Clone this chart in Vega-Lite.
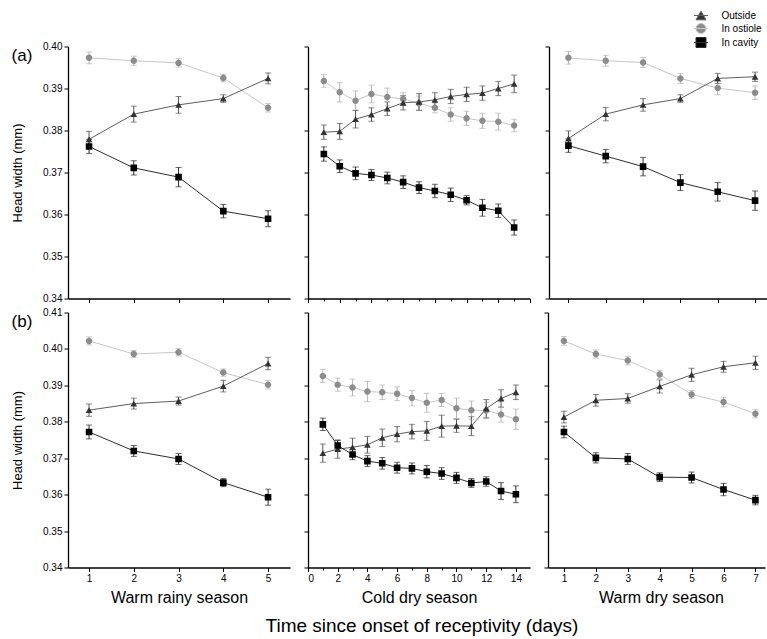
{
"$schema": "https://vega.github.io/schema/vega-lite/v6.json",
"padding": {"left": 11, "top": 9.5, "right": 0, "bottom": 0},
"config": {
  "font": "Liberation Sans",
  "view": {"stroke": null},
  "axis": {"domainColor": "#000", "tickColor": "#000", "labelColor": "#000", "titleColor": "#000", "grid": false, "tickSize": 4, "labelFontSize": 10, "titleFontSize": 13, "titleFontWeight": "normal", "domainWidth": 1.3, "tickWidth": 1, "labelPadding": 2},
  "legend": {"labelFont": "Liberation Sans", "labelFontSize": 10, "labelColor": "#000", "rowPadding": -1, "symbolStrokeWidth": 1}
},
"datasets": {
"a1": [
{"s":"In ostiole","d":1,"v":0.3973,"e":0.0014},{"s":"In ostiole","d":2,"v":0.3966,"e":0.0011},{"s":"In ostiole","d":3,"v":0.3961,"e":0.0010},{"s":"In ostiole","d":4,"v":0.3925,"e":0.0009},{"s":"In ostiole","d":5,"v":0.3854,"e":0.0010},
{"s":"Outside","d":1,"v":0.3779,"e":0.0019},{"s":"Outside","d":2,"v":0.3839,"e":0.0019},{"s":"Outside","d":3,"v":0.3861,"e":0.0020},{"s":"Outside","d":4,"v":0.3876,"e":0.0009},{"s":"Outside","d":5,"v":0.3924,"e":0.0013},
{"s":"In cavity","d":1,"v":0.3762,"e":0.0017},{"s":"In cavity","d":2,"v":0.3711,"e":0.0017},{"s":"In cavity","d":3,"v":0.3689,"e":0.0023},{"s":"In cavity","d":4,"v":0.3608,"e":0.0016},{"s":"In cavity","d":5,"v":0.3590,"e":0.0019}
],
"a2": [
{"s":"In ostiole","d":1,"v":0.3918,"e":0.0015},{"s":"In ostiole","d":2,"v":0.3891,"e":0.0023},{"s":"In ostiole","d":3,"v":0.3871,"e":0.0023},{"s":"In ostiole","d":4,"v":0.3887,"e":0.0021},{"s":"In ostiole","d":5,"v":0.3880,"e":0.0021},{"s":"In ostiole","d":6,"v":0.3875,"e":0.0015},{"s":"In ostiole","d":7,"v":0.3865,"e":0.0017},{"s":"In ostiole","d":8,"v":0.3854,"e":0.0012},{"s":"In ostiole","d":9,"v":0.3838,"e":0.0016},{"s":"In ostiole","d":10,"v":0.3829,"e":0.0017},{"s":"In ostiole","d":11,"v":0.3823,"e":0.0018},{"s":"In ostiole","d":12,"v":0.3821,"e":0.0020},{"s":"In ostiole","d":13,"v":0.3812,"e":0.0015},
{"s":"Outside","d":1,"v":0.3796,"e":0.0017},{"s":"Outside","d":2,"v":0.3798,"e":0.0019},{"s":"Outside","d":3,"v":0.3827,"e":0.0021},{"s":"Outside","d":4,"v":0.3838,"e":0.0016},{"s":"Outside","d":5,"v":0.3852,"e":0.0016},{"s":"Outside","d":6,"v":0.3866,"e":0.0017},{"s":"Outside","d":7,"v":0.3868,"e":0.0020},{"s":"Outside","d":8,"v":0.3873,"e":0.0017},{"s":"Outside","d":9,"v":0.3881,"e":0.0017},{"s":"Outside","d":10,"v":0.3886,"e":0.0017},{"s":"Outside","d":11,"v":0.3889,"e":0.0017},{"s":"Outside","d":12,"v":0.3900,"e":0.0017},{"s":"Outside","d":13,"v":0.3911,"e":0.0021},
{"s":"In cavity","d":1,"v":0.3744,"e":0.0017},{"s":"In cavity","d":2,"v":0.3715,"e":0.0015},{"s":"In cavity","d":3,"v":0.3698,"e":0.0015},{"s":"In cavity","d":4,"v":0.3694,"e":0.0013},{"s":"In cavity","d":5,"v":0.3687,"e":0.0014},{"s":"In cavity","d":6,"v":0.3677,"e":0.0015},{"s":"In cavity","d":7,"v":0.3664,"e":0.0014},{"s":"In cavity","d":8,"v":0.3656,"e":0.0016},{"s":"In cavity","d":9,"v":0.3647,"e":0.0016},{"s":"In cavity","d":10,"v":0.3634,"e":0.0011},{"s":"In cavity","d":11,"v":0.3616,"e":0.0020},{"s":"In cavity","d":12,"v":0.3609,"e":0.0016},{"s":"In cavity","d":13,"v":0.3569,"e":0.0018}
],
"a3": [
{"s":"In ostiole","d":1,"v":0.3973,"e":0.0015},{"s":"In ostiole","d":2,"v":0.3966,"e":0.0013},{"s":"In ostiole","d":3,"v":0.3962,"e":0.0012},{"s":"In ostiole","d":4,"v":0.3924,"e":0.0012},{"s":"In ostiole","d":5,"v":0.3901,"e":0.0016},{"s":"In ostiole","d":6,"v":0.3890,"e":0.0016},
{"s":"Outside","d":1,"v":0.3781,"e":0.0018},{"s":"Outside","d":2,"v":0.3839,"e":0.0016},{"s":"Outside","d":3,"v":0.3861,"e":0.0015},{"s":"Outside","d":4,"v":0.3876,"e":0.0009},{"s":"Outside","d":5,"v":0.3924,"e":0.0012},{"s":"Outside","d":6,"v":0.3928,"e":0.0011},
{"s":"In cavity","d":1,"v":0.3764,"e":0.0016},{"s":"In cavity","d":2,"v":0.3739,"e":0.0016},{"s":"In cavity","d":3,"v":0.3714,"e":0.0022},{"s":"In cavity","d":4,"v":0.3676,"e":0.0019},{"s":"In cavity","d":5,"v":0.3654,"e":0.0022},{"s":"In cavity","d":6,"v":0.3633,"e":0.0023}
],
"b1": [
{"s":"In ostiole","d":1,"v":0.4022,"e":0.0011},{"s":"In ostiole","d":2,"v":0.3986,"e":0.0010},{"s":"In ostiole","d":3,"v":0.3991,"e":0.0010},{"s":"In ostiole","d":4,"v":0.3935,"e":0.0010},{"s":"In ostiole","d":5,"v":0.3902,"e":0.0012},
{"s":"Outside","d":1,"v":0.3832,"e":0.0017},{"s":"Outside","d":2,"v":0.3850,"e":0.0015},{"s":"Outside","d":3,"v":0.3857,"e":0.0011},{"s":"Outside","d":4,"v":0.3898,"e":0.0016},{"s":"Outside","d":5,"v":0.3960,"e":0.0017},
{"s":"In cavity","d":1,"v":0.3772,"e":0.0019},{"s":"In cavity","d":2,"v":0.3720,"e":0.0015},{"s":"In cavity","d":3,"v":0.3698,"e":0.0015},{"s":"In cavity","d":4,"v":0.3633,"e":0.0011},{"s":"In cavity","d":5,"v":0.3593,"e":0.0022}
],
"b2": [
{"s":"In ostiole","d":1,"v":0.3926,"e":0.0018},{"s":"In ostiole","d":2,"v":0.3902,"e":0.0018},{"s":"In ostiole","d":3,"v":0.3894,"e":0.0023},{"s":"In ostiole","d":4,"v":0.3883,"e":0.0028},{"s":"In ostiole","d":5,"v":0.3881,"e":0.0020},{"s":"In ostiole","d":6,"v":0.3877,"e":0.0019},{"s":"In ostiole","d":7,"v":0.3865,"e":0.0021},{"s":"In ostiole","d":8,"v":0.3852,"e":0.0026},{"s":"In ostiole","d":9,"v":0.3860,"e":0.0018},{"s":"In ostiole","d":10,"v":0.3837,"e":0.0028},{"s":"In ostiole","d":11,"v":0.3832,"e":0.0025},{"s":"In ostiole","d":12,"v":0.3831,"e":0.0022},{"s":"In ostiole","d":13,"v":0.3820,"e":0.0021},{"s":"In ostiole","d":14,"v":0.3807,"e":0.0028},
{"s":"Outside","d":1,"v":0.3714,"e":0.0025},{"s":"Outside","d":2,"v":0.3725,"e":0.0025},{"s":"Outside","d":3,"v":0.3730,"e":0.0025},{"s":"Outside","d":4,"v":0.3737,"e":0.0023},{"s":"Outside","d":5,"v":0.3756,"e":0.0024},{"s":"Outside","d":6,"v":0.3766,"e":0.0021},{"s":"Outside","d":7,"v":0.3773,"e":0.0020},{"s":"Outside","d":8,"v":0.3775,"e":0.0026},{"s":"Outside","d":9,"v":0.3788,"e":0.0030},{"s":"Outside","d":10,"v":0.3789,"e":0.0018},{"s":"Outside","d":11,"v":0.3788,"e":0.0026},{"s":"Outside","d":12,"v":0.3836,"e":0.0025},{"s":"Outside","d":13,"v":0.3864,"e":0.0024},{"s":"Outside","d":14,"v":0.3881,"e":0.0020},
{"s":"In cavity","d":1,"v":0.3793,"e":0.0017},{"s":"In cavity","d":2,"v":0.3735,"e":0.0014},{"s":"In cavity","d":3,"v":0.3710,"e":0.0014},{"s":"In cavity","d":4,"v":0.3692,"e":0.0015},{"s":"In cavity","d":5,"v":0.3686,"e":0.0016},{"s":"In cavity","d":6,"v":0.3674,"e":0.0015},{"s":"In cavity","d":7,"v":0.3672,"e":0.0015},{"s":"In cavity","d":8,"v":0.3663,"e":0.0017},{"s":"In cavity","d":9,"v":0.3658,"e":0.0016},{"s":"In cavity","d":10,"v":0.3646,"e":0.0015},{"s":"In cavity","d":11,"v":0.3632,"e":0.0012},{"s":"In cavity","d":12,"v":0.3636,"e":0.0013},{"s":"In cavity","d":13,"v":0.3610,"e":0.0023},{"s":"In cavity","d":14,"v":0.3601,"e":0.0023}
],
"b3": [
{"s":"In ostiole","d":1,"v":0.4022,"e":0.0012},{"s":"In ostiole","d":2,"v":0.3986,"e":0.0011},{"s":"In ostiole","d":3,"v":0.3968,"e":0.0012},{"s":"In ostiole","d":4,"v":0.3930,"e":0.0011},{"s":"In ostiole","d":5,"v":0.3875,"e":0.0011},{"s":"In ostiole","d":6,"v":0.3854,"e":0.0013},{"s":"In ostiole","d":7,"v":0.3822,"e":0.0011},
{"s":"Outside","d":1,"v":0.3813,"e":0.0016},{"s":"Outside","d":2,"v":0.3859,"e":0.0016},{"s":"Outside","d":3,"v":0.3864,"e":0.0013},{"s":"Outside","d":4,"v":0.3897,"e":0.0018},{"s":"Outside","d":5,"v":0.3929,"e":0.0018},{"s":"Outside","d":6,"v":0.3951,"e":0.0015},{"s":"Outside","d":7,"v":0.3962,"e":0.0018},
{"s":"In cavity","d":1,"v":0.3772,"e":0.0016},{"s":"In cavity","d":2,"v":0.3701,"e":0.0014},{"s":"In cavity","d":3,"v":0.3698,"e":0.0015},{"s":"In cavity","d":4,"v":0.3648,"e":0.0012},{"s":"In cavity","d":5,"v":0.3647,"e":0.0015},{"s":"In cavity","d":6,"v":0.3614,"e":0.0017},{"s":"In cavity","d":7,"v":0.3585,"e":0.0013}
]
},
"title": {"text": "Time since onset of receptivity (days)", "orient": "bottom", "fontSize": 19, "fontWeight": "normal", "offset": 11, "dx": 254, "color": "#000"},
"spacing": 4,
"vconcat": [
{"spacing": 13, "hconcat": [
 {"width": 222, "height": 252, "data": {"name": "a1"},
  "title": {"text": "(a)", "anchor": "start", "frame": "bounds", "fontSize": 17, "fontWeight": "normal", "dy": 23, "offset": 0},
  "encoding": {
   "x": {"field": "d", "type": "quantitative", "scale": {"domain": [0.53, 5.49], "nice": false, "zero": false}, "axis": {"values": [1,2,3,4,5], "labels": false, "title": null}},
   "y": {"field": "v", "type": "quantitative", "scale": {"domain": [0.34, 0.40], "nice": false, "zero": false}, "axis": {"values": [0.34,0.35,0.36,0.37,0.38,0.39,0.40], "format": ".2f", "title": "Head width (mm)", "titlePadding": 18}}
  },
  "layer": [
   {"mark": {"type": "line", "strokeWidth": 1}, "encoding": {"stroke": {"field": "s", "type": "nominal", "scale": {"domain": ["Outside","In ostiole","In cavity"], "range": ["#5e5e5e","#c8c8c8","#2e2e2e"]}, "legend": {"orient": "none", "legendX": 627.5, "legendY": -36.5, "title": null, "symbolSize": 100, "labelOffset": 15}}}},
   {"mark": {"type": "errorbar", "ticks": {"size": 6}, "thickness": 1}, "encoding": {"yError": {"field": "e"}, "color": {"field": "s", "type": "nominal", "scale": {"domain": ["In ostiole","Outside","In cavity"], "range": ["#b4b4b4","#555555","#2a2a2a"]}, "legend": null}}},
   {"mark": {"type": "point", "filled": true, "opacity": 1}, "encoding": {
     "shape": {"field": "s", "type": "nominal", "scale": {"domain": ["Outside","In ostiole","In cavity"], "range": ["M-1.4,0H1.4M0,-0.87L1,0.87H-1Z","M-1.4,0H1.4M1,0A1,1,0,1,1,-1,0A1,1,0,1,1,1,0Z","M-1.4,0H1.4M-1,-1H1V1H-1Z"]}, "legend": {"orient": "none", "legendX": 627.5, "legendY": -36.5, "title": null, "symbolSize": 100, "labelOffset": 15}},
     "fill": {"field": "s", "type": "nominal", "scale": {"domain": ["Outside","In ostiole","In cavity"], "range": ["#333333","#8c8c8c","#000000"]}, "legend": {"orient": "none", "legendX": 627.5, "legendY": -36.5, "title": null, "symbolSize": 100, "labelOffset": 15}},
     "size": {"field": "s", "type": "nominal", "scale": {"domain": ["In ostiole","In cavity","Outside"], "range": [42, 45, 60]}, "legend": null}}}
  ]},
 {"width": 222, "height": 252, "data": {"name": "a2"},
  "encoding": {
   "x": {"field": "d", "type": "quantitative", "scale": {"domain": [0, 14], "nice": false, "zero": false}, "axis": {"values": [0,1,2,3,4,5,6,7,8,9,10,11,12,13,14], "labels": false, "title": null, "tickSize": {"condition": {"test": "datum.value % 2 == 1", "value": 2.5}, "value": 4}}},
   "y": {"field": "v", "type": "quantitative", "scale": {"domain": [0.34, 0.40], "nice": false, "zero": false}, "axis": {"values": [0.34,0.35,0.36,0.37,0.38,0.39,0.40], "labels": false, "title": null}}
  },
  "layer": [
   {"mark": {"type": "line", "strokeWidth": 1}, "encoding": {"stroke": {"field": "s", "type": "nominal", "scale": {"domain": ["Outside","In ostiole","In cavity"], "range": ["#5e5e5e","#c8c8c8","#2e2e2e"]}, "legend": {"orient": "none", "legendX": 627.5, "legendY": -36.5, "title": null, "symbolSize": 100, "labelOffset": 15}}}},
   {"mark": {"type": "errorbar", "ticks": {"size": 6}, "thickness": 1}, "encoding": {"yError": {"field": "e"}, "color": {"field": "s", "type": "nominal", "scale": {"domain": ["In ostiole","Outside","In cavity"], "range": ["#b4b4b4","#555555","#2a2a2a"]}, "legend": null}}},
   {"mark": {"type": "point", "filled": true, "opacity": 1}, "encoding": {
     "shape": {"field": "s", "type": "nominal", "scale": {"domain": ["Outside","In ostiole","In cavity"], "range": ["M-1.4,0H1.4M0,-0.87L1,0.87H-1Z","M-1.4,0H1.4M1,0A1,1,0,1,1,-1,0A1,1,0,1,1,1,0Z","M-1.4,0H1.4M-1,-1H1V1H-1Z"]}, "legend": {"orient": "none", "legendX": 627.5, "legendY": -36.5, "title": null, "symbolSize": 100, "labelOffset": 15}},
     "fill": {"field": "s", "type": "nominal", "scale": {"domain": ["Outside","In ostiole","In cavity"], "range": ["#333333","#8c8c8c","#000000"]}, "legend": {"orient": "none", "legendX": 627.5, "legendY": -36.5, "title": null, "symbolSize": 100, "labelOffset": 15}},
     "size": {"field": "s", "type": "nominal", "scale": {"domain": ["In ostiole","In cavity","Outside"], "range": [42, 45, 60]}, "legend": null}}}
  ]},
 {"width": 218, "height": 252, "data": {"name": "a3"},
  "encoding": {
   "x": {"field": "d", "type": "quantitative", "scale": {"domain": [0.48, 6.32], "nice": false, "zero": false}, "axis": {"values": [1,2,3,4,5,6], "labels": false, "title": null}},
   "y": {"field": "v", "type": "quantitative", "scale": {"domain": [0.34, 0.40], "nice": false, "zero": false}, "axis": {"values": [0.34,0.35,0.36,0.37,0.38,0.39,0.40], "labels": false, "title": null}}
  },
  "layer": [
   {"mark": {"type": "line", "strokeWidth": 1}, "encoding": {"stroke": {"field": "s", "type": "nominal", "scale": {"domain": ["Outside","In ostiole","In cavity"], "range": ["#5e5e5e","#c8c8c8","#2e2e2e"]}, "legend": {"orient": "none", "legendX": 627.5, "legendY": -36.5, "title": null, "symbolSize": 100, "labelOffset": 15}}}},
   {"mark": {"type": "errorbar", "ticks": {"size": 6}, "thickness": 1}, "encoding": {"yError": {"field": "e"}, "color": {"field": "s", "type": "nominal", "scale": {"domain": ["In ostiole","Outside","In cavity"], "range": ["#b4b4b4","#555555","#2a2a2a"]}, "legend": null}}},
   {"mark": {"type": "point", "filled": true, "opacity": 1}, "encoding": {
     "shape": {"field": "s", "type": "nominal", "scale": {"domain": ["Outside","In ostiole","In cavity"], "range": ["M-1.4,0H1.4M0,-0.87L1,0.87H-1Z","M-1.4,0H1.4M1,0A1,1,0,1,1,-1,0A1,1,0,1,1,1,0Z","M-1.4,0H1.4M-1,-1H1V1H-1Z"]}, "legend": {"orient": "none", "legendX": 627.5, "legendY": -36.5, "title": null, "symbolSize": 100, "labelOffset": 15}},
     "fill": {"field": "s", "type": "nominal", "scale": {"domain": ["Outside","In ostiole","In cavity"], "range": ["#333333","#8c8c8c","#000000"]}, "legend": {"orient": "none", "legendX": 627.5, "legendY": -36.5, "title": null, "symbolSize": 100, "labelOffset": 15}},
     "size": {"field": "s", "type": "nominal", "scale": {"domain": ["In ostiole","In cavity","Outside"], "range": [42, 45, 60]}, "legend": null}}}
  ]}
]},
{"spacing": 13, "hconcat": [
 {"width": 222, "height": 255, "data": {"name": "b1"},
  "title": {"text": "(b)", "anchor": "start", "frame": "bounds", "fontSize": 17, "fontWeight": "normal", "dy": 23, "offset": 0},
  "encoding": {
   "x": {"field": "d", "type": "quantitative", "scale": {"domain": [0.53, 5.49], "nice": false, "zero": false}, "axis": {"values": [1,2,3,4,5], "title": "Warm rainy season", "titleFontSize": 16, "titlePadding": 6}},
   "y": {"field": "v", "type": "quantitative", "scale": {"domain": [0.34, 0.41], "nice": false, "zero": false}, "axis": {"values": [0.34,0.35,0.36,0.37,0.38,0.39,0.40,0.41], "format": ".2f", "title": "Head width (mm)", "titlePadding": 18}}
  },
  "layer": [
   {"mark": {"type": "line", "strokeWidth": 1}, "encoding": {"stroke": {"field": "s", "type": "nominal", "scale": {"domain": ["Outside","In ostiole","In cavity"], "range": ["#5e5e5e","#c8c8c8","#2e2e2e"]}, "legend": {"orient": "none", "legendX": 627.5, "legendY": -36.5, "title": null, "symbolSize": 100, "labelOffset": 15}}}},
   {"mark": {"type": "errorbar", "ticks": {"size": 6}, "thickness": 1}, "encoding": {"yError": {"field": "e"}, "color": {"field": "s", "type": "nominal", "scale": {"domain": ["In ostiole","Outside","In cavity"], "range": ["#b4b4b4","#555555","#2a2a2a"]}, "legend": null}}},
   {"mark": {"type": "point", "filled": true, "opacity": 1}, "encoding": {
     "shape": {"field": "s", "type": "nominal", "scale": {"domain": ["Outside","In ostiole","In cavity"], "range": ["M-1.4,0H1.4M0,-0.87L1,0.87H-1Z","M-1.4,0H1.4M1,0A1,1,0,1,1,-1,0A1,1,0,1,1,1,0Z","M-1.4,0H1.4M-1,-1H1V1H-1Z"]}, "legend": {"orient": "none", "legendX": 627.5, "legendY": -36.5, "title": null, "symbolSize": 100, "labelOffset": 15}},
     "fill": {"field": "s", "type": "nominal", "scale": {"domain": ["Outside","In ostiole","In cavity"], "range": ["#333333","#8c8c8c","#000000"]}, "legend": {"orient": "none", "legendX": 627.5, "legendY": -36.5, "title": null, "symbolSize": 100, "labelOffset": 15}},
     "size": {"field": "s", "type": "nominal", "scale": {"domain": ["In ostiole","In cavity","Outside"], "range": [42, 45, 60]}, "legend": null}}}
  ]},
 {"width": 222, "height": 255, "data": {"name": "b2"},
  "encoding": {
   "x": {"field": "d", "type": "quantitative", "scale": {"domain": [0, 14.95], "nice": false, "zero": false}, "axis": {"values": [0,1,2,3,4,5,6,7,8,9,10,11,12,13,14], "labelExpr": "datum.value % 2 == 1 ? '' : datum.label", "title": "Cold dry season", "titleFontSize": 16, "titlePadding": 6, "tickSize": {"condition": {"test": "datum.value % 2 == 1", "value": 2.5}, "value": 4}}},
   "y": {"field": "v", "type": "quantitative", "scale": {"domain": [0.34, 0.41], "nice": false, "zero": false}, "axis": {"values": [0.34,0.35,0.36,0.37,0.38,0.39,0.40,0.41], "labels": false, "title": null}}
  },
  "layer": [
   {"mark": {"type": "line", "strokeWidth": 1}, "encoding": {"stroke": {"field": "s", "type": "nominal", "scale": {"domain": ["Outside","In ostiole","In cavity"], "range": ["#5e5e5e","#c8c8c8","#2e2e2e"]}, "legend": {"orient": "none", "legendX": 627.5, "legendY": -36.5, "title": null, "symbolSize": 100, "labelOffset": 15}}}},
   {"mark": {"type": "errorbar", "ticks": {"size": 6}, "thickness": 1}, "encoding": {"yError": {"field": "e"}, "color": {"field": "s", "type": "nominal", "scale": {"domain": ["In ostiole","Outside","In cavity"], "range": ["#b4b4b4","#555555","#2a2a2a"]}, "legend": null}}},
   {"mark": {"type": "point", "filled": true, "opacity": 1}, "encoding": {
     "shape": {"field": "s", "type": "nominal", "scale": {"domain": ["Outside","In ostiole","In cavity"], "range": ["M-1.4,0H1.4M0,-0.87L1,0.87H-1Z","M-1.4,0H1.4M1,0A1,1,0,1,1,-1,0A1,1,0,1,1,1,0Z","M-1.4,0H1.4M-1,-1H1V1H-1Z"]}, "legend": {"orient": "none", "legendX": 627.5, "legendY": -36.5, "title": null, "symbolSize": 100, "labelOffset": 15}},
     "fill": {"field": "s", "type": "nominal", "scale": {"domain": ["Outside","In ostiole","In cavity"], "range": ["#333333","#8c8c8c","#000000"]}, "legend": {"orient": "none", "legendX": 627.5, "legendY": -36.5, "title": null, "symbolSize": 100, "labelOffset": 15}},
     "size": {"field": "s", "type": "nominal", "scale": {"domain": ["In ostiole","In cavity","Outside"], "range": [42, 45, 60]}, "legend": null}}}
  ]},
 {"width": 217, "height": 255, "data": {"name": "b3"},
  "encoding": {
   "x": {"field": "d", "type": "quantitative", "scale": {"domain": [0.5, 7.3], "nice": false, "zero": false}, "axis": {"values": [1,2,3,4,5,6,7], "title": "Warm dry season", "titleFontSize": 16, "titlePadding": 6, "titleX": 113}},
   "y": {"field": "v", "type": "quantitative", "scale": {"domain": [0.34, 0.41], "nice": false, "zero": false}, "axis": {"values": [0.34,0.35,0.36,0.37,0.38,0.39,0.40,0.41], "labels": false, "title": null}}
  },
  "layer": [
   {"mark": {"type": "line", "strokeWidth": 1}, "encoding": {"stroke": {"field": "s", "type": "nominal", "scale": {"domain": ["Outside","In ostiole","In cavity"], "range": ["#5e5e5e","#c8c8c8","#2e2e2e"]}, "legend": {"orient": "none", "legendX": 627.5, "legendY": -36.5, "title": null, "symbolSize": 100, "labelOffset": 15}}}},
   {"mark": {"type": "errorbar", "ticks": {"size": 6}, "thickness": 1}, "encoding": {"yError": {"field": "e"}, "color": {"field": "s", "type": "nominal", "scale": {"domain": ["In ostiole","Outside","In cavity"], "range": ["#b4b4b4","#555555","#2a2a2a"]}, "legend": null}}},
   {"mark": {"type": "point", "filled": true, "opacity": 1}, "encoding": {
     "shape": {"field": "s", "type": "nominal", "scale": {"domain": ["Outside","In ostiole","In cavity"], "range": ["M-1.4,0H1.4M0,-0.87L1,0.87H-1Z","M-1.4,0H1.4M1,0A1,1,0,1,1,-1,0A1,1,0,1,1,1,0Z","M-1.4,0H1.4M-1,-1H1V1H-1Z"]}, "legend": {"orient": "none", "legendX": 627.5, "legendY": -36.5, "title": null, "symbolSize": 100, "labelOffset": 15}},
     "fill": {"field": "s", "type": "nominal", "scale": {"domain": ["Outside","In ostiole","In cavity"], "range": ["#333333","#8c8c8c","#000000"]}, "legend": {"orient": "none", "legendX": 627.5, "legendY": -36.5, "title": null, "symbolSize": 100, "labelOffset": 15}},
     "size": {"field": "s", "type": "nominal", "scale": {"domain": ["In ostiole","In cavity","Outside"], "range": [42, 45, 60]}, "legend": null}}}
  ]}
]}
]
}
